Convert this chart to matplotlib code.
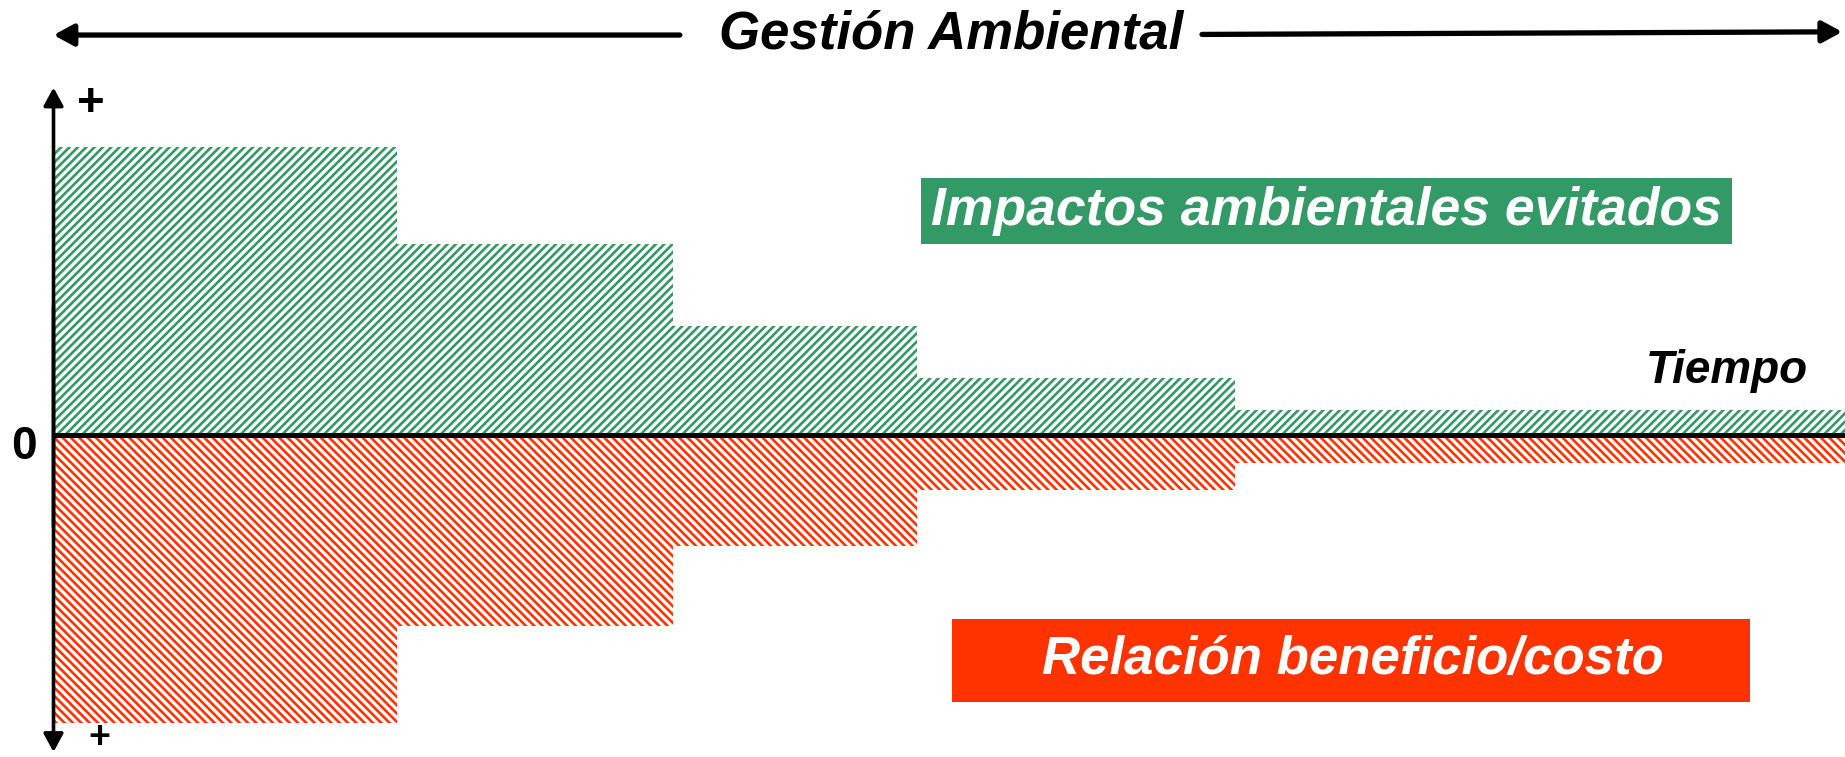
import numpy as np
import matplotlib
matplotlib.use('Agg')
import matplotlib.pyplot as plt
from matplotlib.patches import Rectangle

# time blocks (x units = 100 px) and heights above / below the zero line
time_edges = [0, 3.43, 6.19, 8.63, 11.81, 17.91]
impactos = [2.88, 1.91, 1.09, 0.57, 0.25]
relacion = [-2.88, -1.91, -1.11, -0.55, -0.28]

titulo = 'Gestión Ambiental'
label_up = 'Impactos ambientales evitados'
label_down = 'Relación beneficio/costo'
label_x = 'Tiempo'

green = '#339966'
red = '#FF3300'

plt.rcParams['font.family'] = ['Liberation Sans', 'DejaVu Sans']
plt.rcParams['hatch.linewidth'] = 1.9

fig = plt.figure(figsize=(18.45, 7.57), dpi=100)
ax = fig.add_axes([0, 0, 1, 1])
ax.set_xlim(-0.54, 17.91)
ax.set_ylim(-3.22, 4.35)
ax.axis('off')

lefts = np.array(time_edges[:-1])
widths = np.diff(time_edges)
ax.bar(lefts, impactos, width=widths, align='edge', facecolor='white',
       edgecolor=green, linewidth=0, hatch='////')
ax.bar(lefts, relacion, width=widths, align='edge', facecolor='white',
       edgecolor=red, linewidth=0, hatch='\\\\\\\\')

# zero line
ax.axhline(0, xmin=0.54 / 18.45, xmax=1, color='black', linewidth=3.6)

# vertical double arrow
head_v = '-|>,head_width=0.6,head_length=1.1'
ax.annotate('', xy=(0.029, 0.888), xytext=(0.029, 0.3), xycoords='figure fraction',
            arrowprops=dict(arrowstyle=head_v, color='black', lw=2.6))
ax.annotate('', xy=(0.029, 0.003), xytext=(0.029, 0.6), xycoords='figure fraction',
            arrowprops=dict(arrowstyle=head_v, color='black', lw=2.6))

# top arrows
head_h = '-|>,head_width=0.65,head_length=1.2'
ax.annotate('', xy=(0.0275, 0.9537), xytext=(0.37, 0.9537), xycoords='figure fraction',
            arrowprops=dict(arrowstyle=head_h, color='black', lw=3.8))
ax.annotate('', xy=(1.0, 0.958), xytext=(0.65, 0.9545), xycoords='figure fraction',
            arrowprops=dict(arrowstyle=head_h, color='black', lw=3.8))

fig.text(0.5155, 0.954, titulo, ha='center', va='center', fontsize=38,
         fontweight='bold', fontstyle='italic')

# labelled boxes
fig.patches.append(Rectangle((0.4992, 0.6777), 0.4396, 0.0872,
                             transform=fig.transFigure, facecolor=green, edgecolor='none'))
fig.text(0.719, 0.7213, label_up, ha='center', va='center', fontsize=38.5,
         fontweight='bold', fontstyle='italic', color='white')
fig.patches.append(Rectangle((0.516, 0.0727), 0.4325, 0.1096,
                             transform=fig.transFigure, facecolor=red, edgecolor='none'))
fig.text(0.7333, 0.128, label_down, ha='center', va='center', fontsize=38,
         fontweight='bold', fontstyle='italic', color='white')

fig.text(0.936, 0.51, label_x, ha='center', va='center', fontsize=33,
         fontweight='bold', fontstyle='italic')
fig.text(0.013, 0.41, '0', ha='center', va='center', fontsize=33, fontweight='bold')
fig.text(0.049, 0.862, '+', ha='center', va='center', fontsize=34, fontweight='bold')
fig.text(0.054, 0.001, '+', ha='center', va='bottom', fontsize=27, fontweight='bold')

plt.savefig('out.png', dpi=100)
